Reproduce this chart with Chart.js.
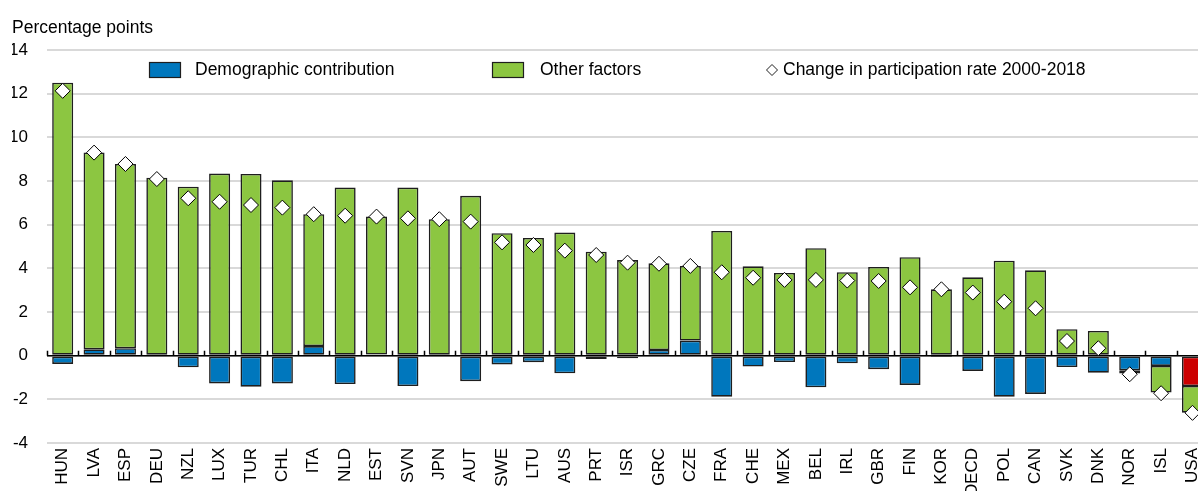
<!DOCTYPE html>
<html>
<head>
<meta charset="utf-8">
<script src="https://cdn.jsdelivr.net/npm/chart.js@4.4.1/dist/chart.umd.min.js"></script>
<style>
    html, body { margin: 0; padding: 0; background: #fff; overflow: hidden; }
    #wrap { width: 1218px; height: 491px; }
</style>
</head>
<body>
<div id="wrap"><canvas id="participationChart" width="1218" height="491"></canvas></div>
<script>
const countries = ['HUN', 'LVA', 'ESP', 'DEU', 'NZL', 'LUX', 'TUR', 'CHL', 'ITA', 'NLD', 'EST', 'SVN', 'JPN',
    'AUT', 'SWE', 'LTU', 'AUS', 'PRT', 'ISR', 'GRC', 'CZE', 'FRA', 'CHE', 'MEX', 'BEL', 'IRL', 'GBR', 'FIN',
    'KOR', 'OECD', 'POL', 'CAN', 'SVK', 'DNK', 'NOR', 'ISL', 'USA'];

const demographic = [-0.38, 0.29, 0.34, -0.05, -0.53, -1.27, -1.42, -1.27, 0.44, -1.30, 0.05, -1.39, 0.0,
    -1.17, -0.40, -0.30, -0.81, -0.15, -0.12, 0.26, 0.69, -1.88, -0.50, -0.29, -1.45, -0.35, -0.62, -1.34,
    -0.02, -0.70, -1.88, -1.75, -0.52, -0.78, -0.67, -0.47, -1.39];

const otherFactors = [12.5, 9.01, 8.44, 8.15, 7.74, 8.34, 8.32, 8.03, 6.04, 7.70, 6.32, 7.70, 6.25,
    7.32, 5.61, 5.39, 5.64, 4.76, 4.38, 3.97, 3.42, 5.71, 4.09, 3.79, 4.92, 3.82, 4.06, 4.51,
    3.04, 3.59, 4.35, 3.91, 1.21, 1.13, -0.15, -1.22, -1.22];

const participationChange = [12.13, 9.3, 8.78, 8.09, 7.21, 7.05, 6.9, 6.78, 6.48, 6.41, 6.37, 6.29, 6.25,
    6.14, 5.19, 5.07, 4.81, 4.61, 4.26, 4.21, 4.11, 3.82, 3.57, 3.47, 3.47, 3.44, 3.42, 3.13,
    3.04, 2.89, 2.47, 2.17, 0.67, 0.34, -0.85, -1.72, -2.62];

const highlight = 'USA';

const BLUE = '#0077bd';
const GREEN = '#8cc641';
const RED = '#cc0000';
const EDGE = '#1e1e1e';
const FONT = '"Liberation Sans", Arial, sans-serif';

Chart.defaults.font.family = FONT;
Chart.defaults.color = '#000';

// zero line with little ticks between the categories
const zeroAxis = {
    id: 'zeroAxis',
    beforeDatasetsDraw(chart) {
        const { ctx, chartArea, scales } = chart;
        const y0 = scales.y.getPixelForValue(0);
        ctx.save();
        ctx.strokeStyle = '#000';
        ctx.lineWidth = 1.5;
        ctx.beginPath();
        ctx.moveTo(chartArea.left, y0);
        ctx.lineTo(chartArea.right, y0);
        for (let i = 0; i <= countries.length; i++) {
            const xb = Math.round(scales.x.getPixelForValue(i - 0.5)) + 0.5;
            ctx.moveTo(xb, y0);
            ctx.lineTo(xb, y0 - 5);
        }
        ctx.stroke();
        ctx.restore();
    }
};

// legend sits inside the plot, one row
const insideLegend = {
    id: 'insideLegend',
    afterDraw(chart) {
        const ctx = chart.ctx;
        const ds = chart.data.datasets;
        const y = 70;
        ctx.save();
        ctx.font = '17.5px ' + FONT;
        ctx.textBaseline = 'middle';
        ctx.lineWidth = 1.2;
        ctx.strokeStyle = EDGE;

        [[0, BLUE, 149, 195], [1, GREEN, 492, 540]].forEach(([i, col, bx, tx]) => {
            ctx.fillStyle = col;
            ctx.fillRect(bx, y - 7.5, 31, 15);
            ctx.strokeRect(bx + 0.5, y - 7.5, 31, 15);
            ctx.fillStyle = '#000';
            ctx.fillText(ds[i].label, tx, y);
        });

        const dx = 772, r = 5.5;
        ctx.beginPath();
        ctx.moveTo(dx - r, y);
        ctx.lineTo(dx, y - r);
        ctx.lineTo(dx + r, y);
        ctx.lineTo(dx, y + r);
        ctx.closePath();
        ctx.fillStyle = '#fff';
        ctx.fill();
        ctx.lineWidth = 1;
        ctx.stroke();
        ctx.fillStyle = '#000';
        ctx.fillText(ds[2].label, 783, y);
        ctx.restore();
    }
};

window.onload = function() {
    const canvas = document.getElementById('participationChart');
    new Chart(canvas.getContext('2d'), {
        type: 'bar',
        data: {
            labels: countries,
            datasets: [{
                label: 'Demographic contribution',
                data: demographic,
                backgroundColor: countries.map(c => c === highlight ? RED : BLUE),
                borderColor: EDGE,
                borderWidth: 1.6,
                borderSkipped: false,
                order: 1
            }, {
                label: 'Other factors',
                data: otherFactors,
                backgroundColor: GREEN,
                borderColor: EDGE,
                borderWidth: 1.6,
                borderSkipped: false,
                order: 1
            }, {
                type: 'line',
                label: 'Change in participation rate 2000-2018',
                data: participationChange,
                showLine: false,
                stack: 'change',
                pointStyle: 'rectRot',
                pointRadius: 7.5,
                pointHoverRadius: 7.5,
                pointBackgroundColor: '#fff',
                pointBorderColor: '#000',
                pointBorderWidth: 1,
                order: 0
            }]
        },
        options: {
            responsive: false,
            animation: false,
            devicePixelRatio: 1,
            categoryPercentage: 1,
            barPercentage: 0.67,
            layout: { padding: { top: 18, left: 12, right: 2, bottom: 0 } },
            plugins: {
                legend: { display: false },
                tooltip: { enabled: false },
                title: {
                    display: true,
                    text: 'Percentage points',
                    align: 'start',
                    color: '#000',
                    font: { size: 17.5, weight: 'normal', lineHeight: 1.2 },
                    padding: { top: 0, bottom: 11 }
                }
            },
            scales: {
                x: {
                    stacked: true,
                    grid: { display: false, drawTicks: false },
                    border: { display: false },
                    ticks: {
                        autoSkip: false,
                        minRotation: 90,
                        maxRotation: 90,
                        padding: 5,
                        font: { size: 17 }
                    },
                    afterFit(scale) {
                        scale.height = 48;
                    }
                },
                y: {
                    stacked: true,
                    min: -4,
                    max: 14,
                    grid: { color: '#d9d9d9', lineWidth: 2, drawTicks: false },
                    border: { display: false },
                    ticks: {
                        stepSize: 2,
                        padding: 19,
                        font: { size: 17 }
                    },
                    afterFit(scale) { scale.width = 35; }
                }
            }
        },
        plugins: [zeroAxis, insideLegend]
    });
};
</script>
</body>
</html>
